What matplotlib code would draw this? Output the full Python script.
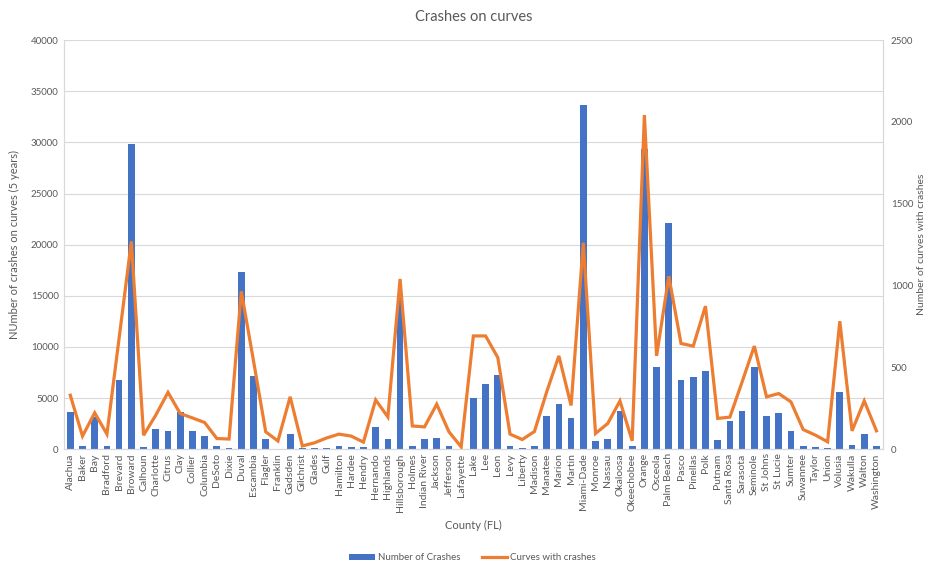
import matplotlib.pyplot as plt
from matplotlib.patches import Patch
from matplotlib.lines import Line2D
import numpy as np

plt.rcParams['font.family'] = ['Lato', 'DejaVu Sans']

counties = ['Alachua', 'Baker', 'Bay', 'Bradford', 'Brevard', 'Broward', 'Calhoun',
            'Charlotte', 'Citrus', 'Clay', 'Collier', 'Columbia', 'DeSoto', 'Dixie',
            'Duval', 'Escambia', 'Flagler', 'Franklin', 'Gadsden', 'Gilchrist', 'Glades',
            'Gulf', 'Hamilton', 'Hardee', 'Hendry', 'Hernando', 'Highlands',
            'Hillsborough', 'Holmes', 'Indian River', 'Jackson', 'Jefferson',
            'Lafayette', 'Lake', 'Lee', 'Leon', 'Levy', 'Liberty', 'Madison', 'Manatee',
            'Marion', 'Martin', 'Miami-Dade', 'Monroe', 'Nassau', 'Okaloosa',
            'Okeechobee', 'Orange', 'Osceola', 'Palm Beach', 'Pasco', 'Pinellas', 'Polk',
            'Putnam', 'Santa Rosa', 'Sarasota', 'Seminole', 'St Johns', 'St Lucie',
            'Sumter', 'Suwannee', 'Taylor', 'Union', 'Volusia', 'Wakulla', 'Walton',
            'Washington']

# crashes on curves over 5 years (left axis)
crashes = [3620, 300, 3150, 300, 6750, 29800, 200,
           1930, 1760, 3590, 1760, 1270, 270, 130,
           17300, 7200, 980, 60, 1470, 80, 130,
           160, 330, 230, 200, 2150, 980,
           15000, 330, 980, 1080, 300,
           50, 5000, 6360, 7240, 330, 130, 300, 3230,
           4430, 3030, 33700, 810, 1040, 3750,
           300, 29400, 8050, 22100, 6720, 7010, 7660,
           880, 2770, 3750, 7990, 3200, 3550,
           1730, 290, 200, 130, 5600, 420, 1470,
           270]

# number of curves with crashes (right axis)
curves = [330, 80, 222, 92, 680, 1270, 85,
          208, 347, 218, 191, 163, 65, 62,
          965, 540, 106, 50, 320, 20, 39,
          69, 92, 80, 43, 301, 197,
          1040, 142, 136, 275, 106,
          14, 692, 692, 560, 92, 59, 108, 350,
          570, 267, 1262, 96, 157, 295,
          51, 2042, 570, 1057, 646, 630, 874,
          188, 196, 411, 630, 320, 340,
          289, 120, 86, 45, 782, 112, 295,
          112]

blue = '#4472C4'
orange = '#ED7D31'
grey_txt = '#595959'
grid_c = '#D9D9D9'

fig = plt.figure(figsize=(9.3, 5.65), dpi=100)
ax = fig.add_axes([0.069, 0.205, 0.880, 0.724])
ax2 = ax.twinx()

x = np.arange(len(counties))
ax.bar(x, crashes, width=0.55, color=blue, zorder=2)
ax2.plot(x, curves, color=orange, linewidth=2.3, solid_joinstyle='miter', zorder=3)

ax.set_xlim(-0.5, len(counties) - 0.5)
ax.set_ylim(0, 40000)
ax.set_yticks(np.arange(0, 40001, 5000))
ax2.set_ylim(0, 2500)
ax2.set_yticks(np.arange(0, 2501, 500))

ax.set_xticks(x)
ax.set_xticklabels(counties, rotation=90, fontsize=7.5, color=grey_txt)
ax.tick_params(axis='both', length=0, labelsize=7, labelcolor=grey_txt, pad=4)
ax.tick_params(axis='x', labelsize=7.5, pad=3)
ax2.tick_params(axis='y', length=0, labelsize=7, labelcolor=grey_txt, pad=6)

ax.yaxis.grid(True, color=grid_c, linewidth=0.8, zorder=0)
ax.set_axisbelow(True)

for a in (ax, ax2):
    a.spines['top'].set_visible(False)
    for s in ('left', 'right', 'bottom'):
        a.spines[s].set_color(grid_c)
        a.spines[s].set_linewidth(0.8)

ax.set_ylabel('NUmber of crashes on curves (5 years)', fontsize=8, color=grey_txt, labelpad=8)
ax2.set_ylabel('Number of curves with crashes', fontsize=7.5, color=grey_txt, labelpad=3)
ax.set_xlabel('County (FL)', fontsize=8, color=grey_txt, labelpad=6)
ax.set_title('Crashes on curves', fontsize=10.5, color=grey_txt, pad=14)

handles = [Patch(facecolor=blue, edgecolor='none'),
           Line2D([0], [0], color=orange, linewidth=2.3)]
fig.legend(handles, ['Number of Crashes', 'Curves with crashes'],
           loc='center', bbox_to_anchor=(0.508, 0.013), ncol=2, frameon=False,
           fontsize=7, labelcolor=grey_txt, handlelength=2.6, handleheight=0.6,
           columnspacing=2.2, handletextpad=0.3)

fig.savefig('out.png', dpi=100, facecolor='white')
